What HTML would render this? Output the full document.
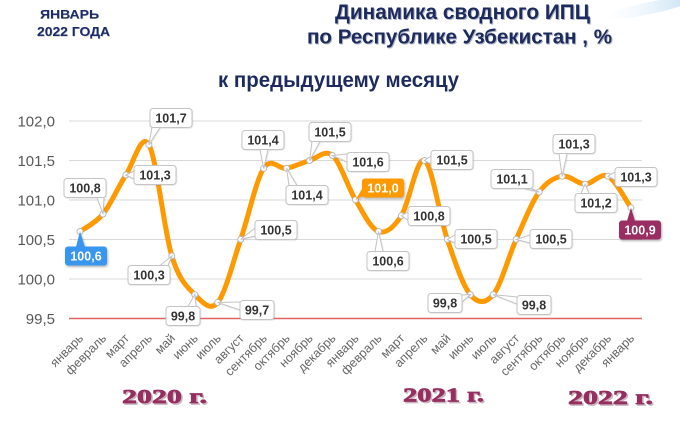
<!DOCTYPE html>
<html>
<head>
<meta charset="utf-8">
<style>
html,body{margin:0;padding:0;background:#fff;}
svg{display:block;}
.t{font-family:"Liberation Sans","Noto Sans CJK SC",sans-serif;}
.lb{font-family:"Liberation Sans",sans-serif;font-size:12.5px;font-weight:bold;fill:#333;text-anchor:middle;}
.lbw{font-family:"Liberation Sans",sans-serif;font-size:12.5px;font-weight:bold;fill:#fff;text-anchor:middle;}
.box{fill:#fff;stroke:#c4c4c4;stroke-width:1;}
.wd{fill:#fff;stroke:#c4c4c4;stroke-width:1;}
.yl{font-family:"Liberation Sans",sans-serif;font-size:15px;fill:#585858;text-anchor:end;}
.xl{font-family:"Liberation Sans",sans-serif;font-size:12.5px;fill:#666;text-anchor:end;}
.yr{font-family:"Liberation Serif",serif;font-size:20px;font-weight:bold;}
</style>
</head>
<body>
<svg width="680" height="428" viewBox="0 0 680 428" xmlns="http://www.w3.org/2000/svg">
<defs>
<filter id="sh" x="-20%" y="-20%" width="150%" height="160%">
<feDropShadow dx="1" dy="1.5" stdDeviation="1" flood-color="#000" flood-opacity="0.3"/>
</filter>
<filter id="sh2" x="-20%" y="-20%" width="150%" height="160%">
<feDropShadow dx="0.5" dy="0.5" stdDeviation="0.6" flood-color="#000" flood-opacity="0.15"/>
</filter>
<linearGradient id="sw" x1="0" y1="0" x2="1" y2="0">
<stop offset="0" stop-color="#e6f2fb" stop-opacity="0"/>
<stop offset="1" stop-color="#bcdcf3" stop-opacity="0.9"/>
</linearGradient>
</defs>
<rect width="680" height="428" fill="#fff"/>
<ellipse cx="650" cy="8" rx="45" ry="6" fill="url(#sw)" transform="rotate(-12 650 8)"/>

<!-- header left -->
<text class="t" x="40.5" y="19" font-size="11.5" font-weight="bold" fill="#bbb" textLength="59" lengthAdjust="spacingAndGlyphs">ЯНВАРЬ</text>
<text class="t" x="40" y="18.5" font-size="11.5" font-weight="bold" fill="#1a2a6c" textLength="59" lengthAdjust="spacingAndGlyphs">ЯНВАРЬ</text>
<text class="t" x="37.5" y="36.5" font-size="12.5" font-weight="bold" fill="#bbb" textLength="73" lengthAdjust="spacingAndGlyphs">2022 ГОДА</text>
<text class="t" x="37" y="36" font-size="12.5" font-weight="bold" fill="#1a2a6c" textLength="73" lengthAdjust="spacingAndGlyphs">2022 ГОДА</text>

<!-- title -->
<text class="t" x="336" y="20" font-size="21" font-weight="bold" fill="#b0b4c4" textLength="255" lengthAdjust="spacingAndGlyphs">Динамика сводного ИПЦ</text>
<text class="t" x="335" y="19" font-size="21" font-weight="bold" fill="#1c2a5e" textLength="255" lengthAdjust="spacingAndGlyphs">Динамика сводного ИПЦ</text>
<text class="t" x="308" y="44.5" font-size="20" font-weight="bold" fill="#b0b4c4" textLength="305" lengthAdjust="spacingAndGlyphs">по Республике Узбекистан , %</text>
<text class="t" x="307" y="43.5" font-size="20" font-weight="bold" fill="#1c2a5e" textLength="305" lengthAdjust="spacingAndGlyphs">по Республике Узбекистан , %</text>
<text class="t" x="218" y="87" font-size="21" font-weight="bold" fill="#1c2a5e" textLength="241" lengthAdjust="spacingAndGlyphs">к предыдущему месяцу</text>

<!-- gridlines -->
<g stroke="#d9d9d9" stroke-width="1">
<line x1="69" y1="121" x2="642" y2="121"/>
<line x1="69" y1="160.5" x2="642" y2="160.5"/>
<line x1="69" y1="200" x2="642" y2="200"/>
<line x1="69" y1="239.5" x2="642" y2="239.5"/>
<line x1="69" y1="279" x2="642" y2="279"/>
</g>
<line x1="69" y1="318.5" x2="642" y2="318.5" stroke="#e06262" stroke-width="1.5"/>

<!-- y labels -->
<text class="yl" x="55" y="126.5">102,0</text>
<text class="yl" x="55" y="166">101,5</text>
<text class="yl" x="55" y="205.5">101,0</text>
<text class="yl" x="55" y="245">100,5</text>
<text class="yl" x="55" y="284.5">100,0</text>
<text class="yl" x="55" y="324">99,5</text>

<!-- x labels -->
<g class="xl">
<text x="84" y="339" transform="rotate(-45 84 339)">январь</text>
<text x="107" y="339" transform="rotate(-45 107 339)">февраль</text>
<text x="129.9" y="339" transform="rotate(-45 129.9 339)">март</text>
<text x="152.9" y="339" transform="rotate(-45 152.9 339)">апрель</text>
<text x="175.8" y="339" transform="rotate(-45 175.8 339)">май</text>
<text x="198.8" y="339" transform="rotate(-45 198.8 339)">июнь</text>
<text x="221.7" y="339" transform="rotate(-45 221.7 339)">июль</text>
<text x="244.7" y="339" transform="rotate(-45 244.7 339)">август</text>
<text x="267.7" y="339" transform="rotate(-45 267.7 339)">сентябрь</text>
<text x="290.6" y="339" transform="rotate(-45 290.6 339)">октябрь</text>
<text x="313.6" y="339" transform="rotate(-45 313.6 339)">ноябрь</text>
<text x="336.5" y="339" transform="rotate(-45 336.5 339)">декабрь</text>
<text x="359.5" y="339" transform="rotate(-45 359.5 339)">январь</text>
<text x="382.5" y="339" transform="rotate(-45 382.5 339)">февраль</text>
<text x="405.4" y="339" transform="rotate(-45 405.4 339)">март</text>
<text x="428.4" y="339" transform="rotate(-45 428.4 339)">апрель</text>
<text x="451.3" y="339" transform="rotate(-45 451.3 339)">май</text>
<text x="474.3" y="339" transform="rotate(-45 474.3 339)">июнь</text>
<text x="497.2" y="339" transform="rotate(-45 497.2 339)">июль</text>
<text x="520.2" y="339" transform="rotate(-45 520.2 339)">август</text>
<text x="543.2" y="339" transform="rotate(-45 543.2 339)">сентябрь</text>
<text x="566.1" y="339" transform="rotate(-45 566.1 339)">октябрь</text>
<text x="589.1" y="339" transform="rotate(-45 589.1 339)">ноябрь</text>
<text x="612" y="339" transform="rotate(-45 612 339)">декабрь</text>
<text x="635" y="339" transform="rotate(-45 635 339)">январь</text>
</g>

<!-- curve -->
<path fill="none" stroke="#FF9900" stroke-width="5" stroke-linejoin="round" stroke-linecap="round" d="
M80,231.5
C83.8,228.6 95.35,223.42 103,214
C110.65,204.58 118.25,186.55 125.9,175
C133.55,163.45 141.25,131.2 148.9,144.7
C156.55,158.2 164.15,231.02 171.8,256
C179.45,280.98 187.15,286.85 194.8,294.6
C202.45,302.35 210.05,311.7 217.7,302.5
C225.35,293.3 233.05,261.77 240.7,239.4
C248.35,217.03 256.05,180.15 263.7,168.3
C271.35,156.45 278.95,169.6 286.6,168.3
C294.25,167 301.95,162.63 309.6,160.5
C317.25,158.37 324.85,148.93 332.5,155.5
C340.15,162.07 347.85,187.23 355.5,199.9
C363.15,212.57 370.85,228.87 378.5,231.5
C386.15,234.13 393.75,227.53 401.4,215.7
C409.05,203.87 416.75,156.55 424.4,160.5
C432.05,164.45 439.65,217.05 447.3,239.4
C454.95,261.75 462.65,285.4 470.3,294.6
C477.95,303.8 485.55,303.8 493.2,294.6
C500.85,285.4 508.55,256.5 516.2,239.4
C523.85,222.3 531.55,202.53 539.2,192
C546.85,181.47 554.45,177.52 562.1,176.2
C569.75,174.88 577.45,184.1 585.1,184.1
C592.75,184.1 600.35,172.25 608,176.2
C615.65,180.15 627.17,202.53 631,207.8"/>

<!-- markers -->
<g fill="#fff" stroke="#b8b8b8" stroke-width="1">
<circle cx="80" cy="231.5" r="3"/>
<circle cx="103" cy="214" r="3"/>
<circle cx="125.9" cy="175" r="3"/>
<circle cx="148.9" cy="144.7" r="3"/>
<circle cx="171.8" cy="256" r="3"/>
<circle cx="194.8" cy="294.6" r="3"/>
<circle cx="217.7" cy="302.5" r="3"/>
<circle cx="240.7" cy="239.4" r="3"/>
<circle cx="263.7" cy="168.3" r="3"/>
<circle cx="286.6" cy="168.3" r="3"/>
<circle cx="309.6" cy="160.5" r="3"/>
<circle cx="332.5" cy="155.5" r="3"/>
<circle cx="355.5" cy="199.9" r="3"/>
<circle cx="378.5" cy="231.5" r="3"/>
<circle cx="401.4" cy="215.7" r="3"/>
<circle cx="424.4" cy="160.5" r="3"/>
<circle cx="447.3" cy="239.4" r="3"/>
<circle cx="470.3" cy="294.6" r="3"/>
<circle cx="493.2" cy="294.6" r="3"/>
<circle cx="516.2" cy="239.4" r="3"/>
<circle cx="539.2" cy="192" r="3"/>
<circle cx="562.1" cy="176.2" r="3"/>
<circle cx="585.1" cy="184.1" r="3"/>
<circle cx="608" cy="176.2" r="3"/>
<circle cx="631" cy="207.8" r="3"/>
</g>

<!-- data labels -->
<g filter="url(#sh)">
<polygon points="76,247 80,231.5 85,247" fill="#3796ee"/>
<rect x="65" y="246.5" width="42" height="19" rx="3" fill="#3796ee"/>
</g>
<text class="lbw" x="86" y="260.5">100,6</text>

<g filter="url(#sh2)">
<polyline class="wd" points="97,197.5 103,214 104,197.5"/>
<rect class="box" x="64" y="178.5" width="42" height="19" rx="3"/>
<polyline class="wd" points="134,171 125.9,175 134,179"/>
<rect class="box" x="134" y="165.5" width="42" height="19" rx="3"/>
<polyline class="wd" points="152,127.5 148.9,144.7 160,127.5"/>
<rect class="box" x="150" y="108.5" width="42" height="19" rx="3"/>
<polyline class="wd" points="160,265.5 171.8,256 168,265.5"/>
<rect class="box" x="128" y="265.5" width="42" height="19" rx="3"/>
<polyline class="wd" points="188,306.5 194.8,294.6 196,306.5"/>
<rect class="box" x="166" y="306.5" width="34" height="19" rx="3"/>
<polyline class="wd" points="240,302 217.7,302.5 240,310"/>
<rect class="box" x="240" y="300.5" width="34" height="19" rx="3"/>
<polyline class="wd" points="255,228 240.7,239.4 255,236"/>
<rect class="box" x="255" y="220.5" width="42" height="19" rx="3"/>
<polyline class="wd" points="260,149.5 263.7,168.3 268,149.5"/>
<rect class="box" x="242" y="130.5" width="42" height="19" rx="3"/>
<polyline class="wd" points="289,185.5 286.6,168.3 297,185.5"/>
<rect class="box" x="286" y="185.5" width="42" height="19" rx="3"/>
<polyline class="wd" points="312,141.5 309.6,160.5 320,141.5"/>
<rect class="box" x="309" y="122.5" width="42" height="19" rx="3"/>
<polyline class="wd" points="347,154 332.5,155.5 347,162"/>
<rect class="box" x="347" y="152.5" width="42" height="19" rx="3"/>
<polyline class="wd" points="375,251.5 378.5,231.5 383,251.5"/>
<rect class="box" x="367" y="251.5" width="42" height="19" rx="3"/>
<polyline class="wd" points="408,212 401.4,215.7 408,220"/>
<rect class="box" x="408" y="206.5" width="42" height="19" rx="3"/>
<polyline class="wd" points="431,156 424.4,160.5 431,164"/>
<rect class="box" x="431" y="150.5" width="42" height="19" rx="3"/>
<polyline class="wd" points="455,235 447.3,239.4 455,243"/>
<rect class="box" x="455" y="229.5" width="42" height="19" rx="3"/>
<polyline class="wd" points="462,295 470.3,294.6 462,302"/>
<rect class="box" x="428" y="293.5" width="34" height="19" rx="3"/>
<polyline class="wd" points="517,297 493.2,294.6 517,304"/>
<rect class="box" x="517" y="295.5" width="34" height="19" rx="3"/>
<polyline class="wd" points="530,235 516.2,239.4 530,243"/>
<rect class="box" x="530" y="229.5" width="42" height="19" rx="3"/>
<polyline class="wd" points="524,188.5 539.2,192 531,188.5"/>
<rect class="box" x="491" y="169.5" width="42" height="19" rx="3"/>
<polyline class="wd" points="559,153.5 562.1,176.2 567,153.5"/>
<rect class="box" x="553" y="134.5" width="42" height="19" rx="3"/>
<polyline class="wd" points="581,193.5 585.1,184.1 589,193.5"/>
<rect class="box" x="575" y="193.5" width="42" height="19" rx="3"/>
<polyline class="wd" points="615,172 608,176.2 615,180"/>
<rect class="box" x="615" y="167.5" width="42" height="19" rx="3"/>
</g>

<g filter="url(#sh)">
<polygon points="362.5,188 355.5,199.9 362.5,196" fill="#ff9900"/>
<rect x="362" y="178.5" width="42" height="19" rx="3" fill="#ff9900"/>
</g>
<g filter="url(#sh)">
<polygon points="627,221 631,207.8 635,221" fill="#9a2e62"/>
<rect x="619" y="220.5" width="42" height="19" rx="3" fill="#9a2e62"/>
</g>

<text class="lb" x="85" y="192.5">100,8</text>
<text class="lb" x="155" y="179.5">101,3</text>
<text class="lb" x="171" y="122.5">101,7</text>
<text class="lb" x="149" y="279.5">100,3</text>
<text class="lb" x="183" y="320.5">99,8</text>
<text class="lb" x="257" y="314.5">99,7</text>
<text class="lb" x="276" y="234.5">100,5</text>
<text class="lb" x="263" y="144.5">101,4</text>
<text class="lb" x="307" y="199.5">101,4</text>
<text class="lb" x="330" y="136.5">101,5</text>
<text class="lb" x="368" y="166.5">101,6</text>
<text class="lbw" x="383" y="192.5">101,0</text>
<text class="lb" x="388" y="265.5">100,6</text>
<text class="lb" x="429" y="220.5">100,8</text>
<text class="lb" x="452" y="164.5">101,5</text>
<text class="lb" x="476" y="243.5">100,5</text>
<text class="lb" x="445" y="307.5">99,8</text>
<text class="lb" x="534" y="309.5">99,8</text>
<text class="lb" x="551" y="243.5">100,5</text>
<text class="lb" x="512" y="183.5">101,1</text>
<text class="lb" x="574" y="148.5">101,3</text>
<text class="lb" x="596" y="207.5">101,2</text>
<text class="lb" x="636" y="181.5">101,3</text>
<text class="lbw" x="640" y="234.5">100,9</text>

<!-- year labels -->
<text class="yr" x="123.5" y="404.5" fill="#c9b7c0" stroke="#c9b7c0" stroke-width="0.7" textLength="85" lengthAdjust="spacingAndGlyphs">2020 г.</text>
<text class="yr" x="122" y="403" fill="#962f60" stroke="#962f60" stroke-width="0.7" textLength="85" lengthAdjust="spacingAndGlyphs">2020 г.</text>
<text class="yr" x="404.5" y="403" fill="#c9b7c0" stroke="#c9b7c0" stroke-width="0.7" textLength="81" lengthAdjust="spacingAndGlyphs">2021 г.</text>
<text class="yr" x="403" y="401.5" fill="#962f60" stroke="#962f60" stroke-width="0.7" textLength="81" lengthAdjust="spacingAndGlyphs">2021 г.</text>
<text class="yr" x="569.5" y="405.5" fill="#c9b7c0" stroke="#c9b7c0" stroke-width="0.7" textLength="85" lengthAdjust="spacingAndGlyphs">2022 г.</text>
<text class="yr" x="568" y="404" fill="#962f60" stroke="#962f60" stroke-width="0.7" textLength="85" lengthAdjust="spacingAndGlyphs">2022 г.</text>
</svg>
</body>
</html>
